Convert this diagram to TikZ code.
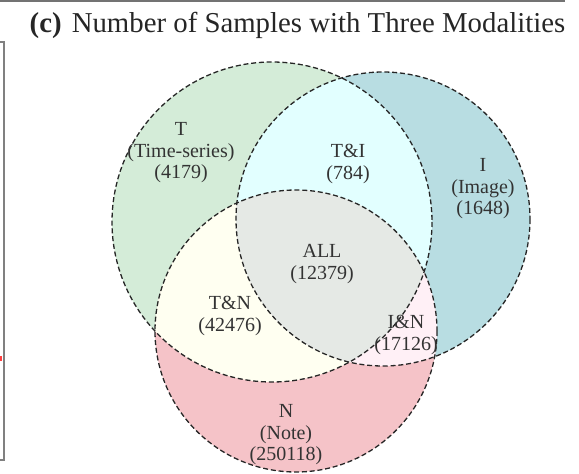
\documentclass[tikz,border=0pt]{standalone}
\usepackage{fontspec}
\setmainfont{Liberation Serif}
\begin{document}
\begin{tikzpicture}[x=1pt,y=-1pt,
  setedge/.style={draw=black!85, dashed, dash pattern=on 5pt off 2.8pt, line width=1.3pt},
  setlabel/.style={align=center, inner sep=0pt, text=black!80,
    font=\fontsize{20}{21.5}\selectfont}]
\definecolor{tcol}{RGB}{212,236,216}
\definecolor{icol}{RGB}{184,221,226}
\definecolor{ncol}{RGB}{245,195,200}
\definecolor{ticol}{RGB}{226,255,255}
\definecolor{tncol}{RGB}{255,255,241}
\definecolor{incol}{RGB}{255,240,246}
\definecolor{allcol}{RGB}{229,233,229}
\useasboundingbox (0,0) rectangle (579,474);

% circle centres and radii
\def\Tc{(272,222) circle[radius=160]}
\def\Ic{(383,219) circle[radius=147]}
\def\Nc{(296,331) circle[radius=141]}

% edge of the neighbouring panel
\draw[black!55, line width=1.5pt] (0,1) -- (565,1);
\draw[black!50, line width=1.8pt] (0,42) -- (4,42) -- (4,460) -- (0,460);
\fill[red!75] (0,356) rectangle (2,361);

% single-set regions
\fill[tcol] \Tc;
\fill[icol] \Ic;
\fill[ncol] \Nc;
% pairwise overlaps
\begin{scope}\clip \Tc; \fill[ticol] \Ic; \end{scope}
\begin{scope}\clip \Tc; \fill[tncol] \Nc; \end{scope}
\begin{scope}\clip \Ic; \fill[incol] \Nc; \end{scope}
% triple overlap
\begin{scope}\clip \Tc; \clip \Ic; \fill[allcol] \Nc; \end{scope}

% dashed outlines
\draw[setedge] \Tc;
\draw[setedge] \Ic;
\draw[setedge] \Nc;

% title
\node[inner sep=0pt, anchor=base, font=\fontsize{28.8}{30}\selectfont, text=black!85]
  (title) at (297.5,32) {\textbf{(c)}\hspace{0.35em}Number of Samples with Three Modalities};

% region labels
\node[setlabel] (lT)   at (181,153) {T\\(Time-series)\\(4179)};
\node[setlabel] (lTI)  at (348,164) {T\&I\\(784)};
\node[setlabel] (lI)   at (483,189) {I\\(Image)\\(1648)};
\node[setlabel] (lALL) at (322,264) {ALL\\(12379)};
\node[setlabel] (lTN)  at (230,316) {T\&N\\(42476)};
\node[setlabel] (lIN)  at (406,335) {I\&N\\(17126)};
\node[setlabel] (lN)   at (286,435) {N\\(Note)\\(250118)};
\end{tikzpicture}
\end{document}
